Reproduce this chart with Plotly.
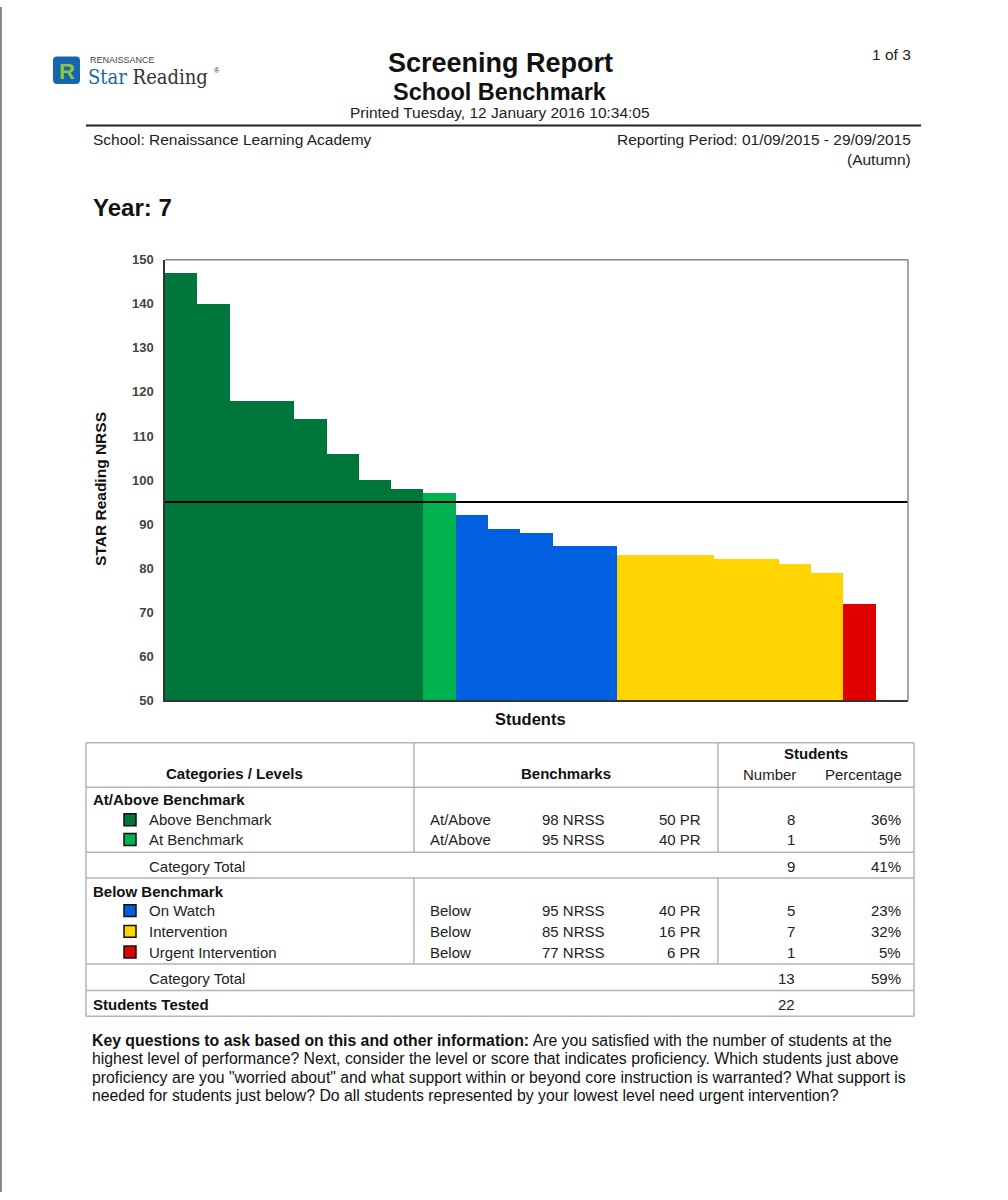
import plotly.graph_objects as go

# ---------------- data ----------------
scores = [147, 140, 118, 118, 114, 106, 100, 98, 97, 92, 89, 88, 85, 85,
          83, 83, 83, 82, 82, 81, 79, 72]
levels = ["Above Benchmark", "At Benchmark", "On Watch", "Intervention", "Urgent Intervention"]
level_colors = ["#00773a", "#00b14f", "#0060e0", "#ffd400", "#e00000"]
level_group = [0, 0, 1, 1, 1]
groups = ["At/Above Benchmark", "Below Benchmark"]
relation = ["At/Above", "At/Above", "Below", "Below", "Below"]
nrss_cut = [98, 95, 95, 85, 77]
pr_cut = [50, 40, 40, 16, 6]
counts = [8, 1, 5, 7, 1]
percents = [36, 5, 23, 32, 5]
group_totals = [9, 13]
group_percents = [41, 59]
students_tested = 22
benchmark_line = 95
y_ticks = [50, 60, 70, 80, 90, 100, 110, 120, 130, 140, 150]
key_lines = [
    "<b>Key questions to ask based on this and other information:</b> Are you satisfied with the number of students at the",
    "highest level of performance? Next, consider the level or score that indicates proficiency. Which students just above",
    "proficiency are you \"worried about\" and what support within or beyond core instruction is warranted? What support is",
    "needed for students just below? Do all students represented by your lowest level need urgent intervention?",
]

W, H = 1008, 1200
def X(px): return px / W
def Y(py): return 1 - py / H

FONT = "Liberation Sans, Arial, sans-serif"
fig = go.Figure()

# bars: one trace per level, students in order
idx = 0
for li, lev in enumerate(levels):
    xs = list(range(idx, idx + counts[li]))
    ys = scores[idx: idx + counts[li]]
    idx += counts[li]
    fig.add_trace(go.Bar(x=xs, y=ys, marker=dict(color=level_colors[li], line=dict(width=0)),
                         width=1.0, name=lev, showlegend=False, hoverinfo="y"))

# benchmark line
fig.add_trace(go.Scatter(x=[-0.5, len(scores) + 0.5], y=[benchmark_line, benchmark_line],
                         mode="lines", line=dict(color="black", width=2),
                         showlegend=False, hoverinfo="skip"))

shapes = []
anns = []

def ann(text, x, y, size=15, bold=False, xanchor="left", color="#222", font=FONT, yanchor="middle", **kw):
    t = f"<b>{text}</b>" if bold else text
    anns.append(dict(text=t, x=X(x), y=Y(y), xref="paper", yref="paper", showarrow=False,
                     xanchor=xanchor, yanchor=yanchor, font=dict(size=size, color=color, family=font), **kw))

def line(x0, y0, x1, y1, color="#aaaaaa", width=1.5):
    shapes.append(dict(type="line", xref="paper", yref="paper", x0=X(x0), y0=Y(y0), x1=X(x1), y1=Y(y1),
                       line=dict(color=color, width=width)))

def rect(x0, y0, x1, y1, fill, lcolor="black", lw=1.5):
    shapes.append(dict(type="rect", xref="paper", yref="paper", x0=X(x0), y0=Y(y0), x1=X(x1), y1=Y(y1),
                       fillcolor=fill, line=dict(color=lcolor, width=lw)))

# page left border
line(1, 0, 1, H, color="#888888", width=2)

# logo
r = 4
x0, y0, x1, y1 = 53, 50, 80, 78
path = (f"M {X(x0+r)} {Y(y0)} L {X(x1-r)} {Y(y0)} Q {X(x1)} {Y(y0)} {X(x1)} {Y(y0+r)} "
        f"L {X(x1)} {Y(y1-r)} Q {X(x1)} {Y(y1)} {X(x1-r)} {Y(y1)} L {X(x0+r)} {Y(y1)} "
        f"Q {X(x0)} {Y(y1)} {X(x0)} {Y(y1-r)} L {X(x0)} {Y(y0+r)} Q {X(x0)} {Y(y0)} {X(x0+r)} {Y(y0)} Z")
shapes.append(dict(type="path", xref="paper", yref="paper", path=path, fillcolor="#1766ad",
                   line=dict(width=0)))
ann("R", 66.5, 65, size=22, bold=True, xanchor="center", color="#8cc63f")
ann("RENAISSANCE", 88, 54, size=9, color="#444444")
ann("<span style='color:#1a66aa'>Star</span> Reading", 86, 71,
    size=20, color="#333333", font="DejaVu Serif Condensed, DejaVu Serif, serif")
ann("®", 212, 64, size=7, color="#333333")

# header
ann("Screening Report", 500, 57, size=27, bold=True, xanchor="center", color="#111")
ann("School Benchmark", 500, 86, size=23.5, bold=True, xanchor="center", color="#111")
ann("Printed Tuesday, 12 January 2016 10:34:05", 500, 107, size=15.5, xanchor="center")
ann("1 of 3", 913, 48, size=15.5, xanchor="right")
line(86, 120, 921, 120, color="#222222", width=2)
ann("School: Renaissance Learning Academy", 91, 134, size=15.5)
ann("Reporting Period: 01/09/2015 - 29/09/2015", 913, 134, size=15.5, xanchor="right")
ann("(Autumn)", 913, 154, size=15.5, xanchor="right")
ann("Year: 7", 91, 203, size=24, bold=True, color="#111")

# chart labels
ann("STAR Reading NRSS", 101, 488, size=15.5, bold=True, xanchor="center", color="#111", textangle=-90)
ann("Students", 530, 721, size=16.5, bold=True, xanchor="center", color="#111")

# frame top/right (grey)
shapes.append(dict(type="line", xref="x domain", yref="y domain", x0=0, y0=1, x1=1, y1=1,
                   line=dict(color="#888888", width=1.5)))
shapes.append(dict(type="line", xref="x domain", yref="y domain", x0=1, y0=0, x1=1, y1=1,
                   line=dict(color="#888888", width=1.5)))

# ---------------- table ----------------
TL, TR, TT, TB = 86, 914, 745, 1022
C1, C2 = 414, 718
G = "#b5b5b5"
line(TL, TT, TR, TT, G); line(TL, TB, TR, TB, G)
line(TL, TT, TL, TB, G); line(TR, TT, TR, TB, G)
for yy in [790, 856, 882, 969, 996]:
    line(TL, yy, TR, yy, G)
for cx in [C1, C2]:
    line(cx, TT, cx, 856, G)
    line(cx, 882, cx, 969, G)

ann("Categories / Levels", 234, 776, bold=True, xanchor="center", color="#111")
ann("Benchmarks", 566, 776, bold=True, xanchor="center", color="#111")
ann("Students", 816, 756, bold=True, xanchor="center", color="#111")
ann("Number", 769, 777, xanchor="center")
ann("Percentage", 863, 777, xanchor="center")

group_y = [803, 896]
level_y = [823, 843, 915, 936, 957]
total_y = [870, 984]
for gi, g in enumerate(groups):
    ann(g, 91, group_y[gi], bold=True, color="#111")
    ann("Category Total", 147, total_y[gi])
    ann(str(group_totals[gi]), 797, total_y[gi], xanchor="right")
    ann(f"{group_percents[gi]}%", 903, total_y[gi], xanchor="right")
for li, lev in enumerate(levels):
    yy = level_y[li]
    rect(124, yy - 6, 136, yy + 6, level_colors[li], "#111111", 1.5)
    ann(lev, 147, yy)
    ann(relation[li], 428, yy)
    ann(f"{nrss_cut[li]} NRSS", 540, yy)
    ann(f"{pr_cut[li]} PR", 703, yy, xanchor="right")
    ann(str(counts[li]), 797, yy, xanchor="right")
    ann(f"{percents[li]}%", 903, yy, xanchor="right")
ann("Students Tested", 91, 1010, bold=True, color="#111")
ann(str(students_tested), 797, 1010, xanchor="right")

# key questions
for i, t in enumerate(key_lines):
    ann(t, 90, 1047 + i * 18.3, size=15.8, color="#111")

fig.update_layout(
    width=W, height=H, margin=dict(l=0, r=0, t=0, b=0),
    paper_bgcolor="white", plot_bgcolor="white",
    bargap=0, barmode="overlay",
    xaxis=dict(domain=[X(165), X(908)], range=[-0.5, len(scores) + 0.5], showticklabels=False,
               showgrid=False, zeroline=False, showline=True, linecolor="#333333", linewidth=1.5,
               ticks="", fixedrange=True),
    yaxis=dict(domain=[Y(702), Y(256)], range=[50, 150], tickvals=y_ticks,
               ticktext=[f"<b>{v}</b>" for v in y_ticks],
               tickfont=dict(size=13, color="#444444", family=FONT), showgrid=False, zeroline=False,
               showline=True, linecolor="#333333", linewidth=1.5, ticks="", ticklabelstandoff=7,
               fixedrange=True),
    shapes=shapes, annotations=anns, showlegend=False,
)
fig.write_html("out.html", config={"displayModeBar": False},
               post_script="document.body.style.margin='0';document.body.style.overflow='hidden';")
